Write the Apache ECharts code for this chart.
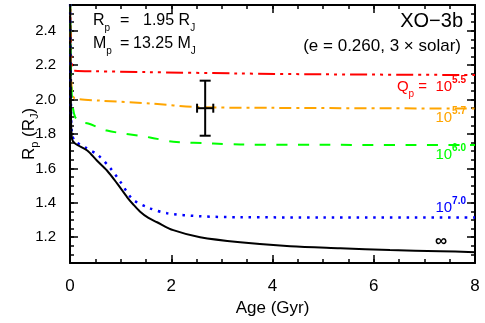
<!DOCTYPE html>
<html>
<head>
<meta charset="utf-8">
<script src="https://cdn.jsdelivr.net/npm/echarts@6/dist/echarts.min.js"></script>
<style>
  html, body { margin: 0; padding: 0; background: #fff; }
  #chart { width: 485px; height: 323px; }
</style>
</head>
<body>
<div id="chart"></div>
<script>
// evolution tracks of XO-3b radius, one per tidal Q
var FONT = 'Liberation Sans, Arial, sans-serif';

var ageQ55 = [0, 0.02, 0.05, 0.1, 0.5, 1.5, 3.3, 5, 8];
var radQ55 = [2.7, 2.3, 2.18, 2.168, 2.165, 2.16, 2.152, 2.147, 2.143];

var ageQ57 = [0, 0.02, 0.05, 0.1, 0.6, 1.6, 2.5, 4, 8];
var radQ57 = [2.7, 2.15, 2.03, 2.006, 1.994, 1.977, 1.957, 1.952, 1.948];

var ageQ60 = [0, 0.02, 0.05, 0.1, 0.2, 0.36, 0.73, 1.58, 2.04, 2.83, 3.36, 5, 8];
var radQ60 = [2.7, 2.15, 1.97, 1.9, 1.87, 1.861, 1.82, 1.78, 1.755, 1.745, 1.739, 1.737, 1.736];

var ageQ70 = [0, 0.02, 0.04, 0.1, 0.3, 0.55, 0.8, 1.0, 1.24, 1.58, 1.92, 2.57, 3.36, 5, 8];
var radQ70 = [2.7, 1.95, 1.8, 1.758, 1.722, 1.678, 1.6, 1.52, 1.42, 1.368, 1.339, 1.322, 1.316, 1.315, 1.314];

var ageInf = [0, 0.02, 0.04, 0.1, 0.34, 0.53, 0.73, 0.93, 1.13, 1.25, 1.38, 1.55, 1.72, 2.04, 2.57, 3.36, 4.35, 5.34, 6.32, 7.31, 8];
var radInf = [2.7, 1.9, 1.77, 1.745, 1.704, 1.646, 1.588, 1.513, 1.432, 1.39, 1.35, 1.312, 1.287, 1.241, 1.2, 1.171, 1.148, 1.136, 1.125, 1.119, 1.113];

// observed planet
var obsAge = [2.67];
var obsAgeErr = [0.16];
var obsRadius = [1.95];
var obsRadiusErr = [0.16];

// axis ranges and tick steps
var ageMin = 0, ageMax = 8, ageStep = 2, ageMinorStep = 0.5;
var radMin = 1.05, radMax = 2.55, radStep = 0.2, radMinorStep = 0.05;

function pairs(xs, ys) {
  var out = [];
  for (var i = 0; i < xs.length; i++) {
    out.push([xs[i], ys[i]]);
  }
  return out;
}

function track(name, xs, ys, color, dash, width) {
  return {
    name: name,
    type: 'line',
    data: pairs(xs, ys),
    showSymbol: false,
    smooth: 0.3,
    clip: true,
    lineStyle: { color: color, width: width || 2, type: dash, cap: 'butt' },
    z: 3
  };
}

// plot box, px
var L = 70, R = 10, T = 5, B = 60, H = 323;
var MAJ = 8, MIN = 4;
var pxPerRad = (H - T - B) / (radMax - radMin);
// major y ticks start from a multiple of the step, so that grid reaches a bit lower
var radMajorStart = Math.floor(radMin / radStep) * radStep;
var majBottom = B - (radMin - radMajorStart) * pxPerRad;

var grids = [
  { left: L, right: R, top: T, bottom: B },                 // 0 curves, bottom/left axes
  { left: L, right: R, top: T, bottom: B },                 // 1 top/right frame
  { left: L, right: R, bottom: B, height: MAJ },            // 2 bottom major ticks
  { left: L, right: R, bottom: B, height: MIN },            // 3 bottom minor ticks
  { left: L, right: R, top: T, height: MAJ },               // 4 top major ticks
  { left: L, right: R, top: T, height: MIN },               // 5 top minor ticks
  { left: L, width: MAJ, top: T, bottom: majBottom },       // 6 left major ticks
  { left: L, width: MIN, top: T, bottom: B },               // 7 left minor ticks
  { right: R, width: MAJ, top: T, bottom: majBottom },      // 8 right major ticks
  { right: R, width: MIN, top: T, bottom: B }               // 9 right minor ticks
];

var frameLine = { show: true, onZero: false, lineStyle: { color: '#000', width: 2 } };

function hidden(gridIndex) {
  return { type: 'value', gridIndex: gridIndex, show: false, min: 0, max: 1 };
}

// short split lines in a thin grid act as inward ticks
function tickAxis(gridIndex, min, max, step) {
  return {
    type: 'value',
    gridIndex: gridIndex,
    min: min,
    max: max,
    interval: step,
    axisLine: { show: false },
    axisTick: { show: false },
    axisLabel: { show: false },
    splitLine: { show: true, showMinLine: false, showMaxLine: false, lineStyle: { color: '#000', width: 1.5 } }
  };
}

var xAxes = [
  {
    type: 'value', gridIndex: 0, position: 'bottom',
    min: ageMin, max: ageMax, interval: ageStep,
    axisLine: frameLine,
    axisTick: { show: false },
    splitLine: { show: false },
    axisLabel: { fontSize: 17, color: '#000', margin: 15, fontFamily: FONT },
    name: 'Age (Gyr)',
    nameLocation: 'middle',
    nameGap: 37,
    nameMoveOverlap: false,
    nameTextStyle: { fontSize: 17, color: '#000', fontFamily: FONT }
  },
  {
    type: 'value', gridIndex: 1, position: 'top',
    min: ageMin, max: ageMax, interval: ageStep,
    axisLine: frameLine, axisTick: { show: false }, axisLabel: { show: false }, splitLine: { show: false }
  },
  tickAxis(2, ageMin, ageMax, ageStep),
  tickAxis(3, ageMin, ageMax, ageMinorStep),
  tickAxis(4, ageMin, ageMax, ageStep),
  tickAxis(5, ageMin, ageMax, ageMinorStep),
  hidden(6), hidden(7), hidden(8), hidden(9)
];

var yAxes = [
  {
    type: 'value', gridIndex: 0, position: 'left',
    min: radMin, max: radMax, interval: radMinorStep,
    axisLine: frameLine,
    axisTick: { show: false },
    splitLine: { show: false },
    axisLabel: {
      fontSize: 15, color: '#000', margin: 14, fontFamily: FONT, hideOverlap: false,
      formatter: function (v) {
        var k = v / radStep;
        return Math.abs(k - Math.round(k)) < 1e-6 ? v.toFixed(1) : '';
      }
    },
    name: '{n|R}{s|p}{n| (R}{s|J}{n|)}',
    nameLocation: 'middle',
    nameGap: 30,
    nameRotate: 90,
    nameMoveOverlap: false,
    nameTextStyle: {
      fontFamily: FONT,
      rich: {
        n: { fontSize: 17, color: '#000', lineHeight: 22, fontFamily: FONT },
        s: { fontSize: 11, color: '#000', lineHeight: 14, verticalAlign: 'bottom', fontFamily: FONT }
      }
    }
  },
  {
    type: 'value', gridIndex: 1, position: 'right',
    min: radMin, max: radMax,
    axisLine: frameLine, axisTick: { show: false }, axisLabel: { show: false }, splitLine: { show: false }
  },
  hidden(2), hidden(3), hidden(4), hidden(5),
  tickAxis(6, radMajorStart, radMax, radStep),
  tickAxis(7, radMin, radMax, radMinorStep),
  tickAxis(8, radMajorStart, radMax, radStep),
  tickAxis(9, radMin, radMax, radMinorStep)
];

// rich styles for the in-plot notes
function richSet(color, size) {
  return {
    n: { fontSize: size, fill: color, lineHeight: 24, fontFamily: FONT },
    s: { fontSize: 10, fill: color, lineHeight: 16, verticalAlign: 'bottom', fontFamily: FONT },
    u: { fontSize: 10, fill: color, lineHeight: 10, verticalAlign: 'top', fontWeight: 'bold', fontFamily: FONT }
  };
}

function note(text, x, y, align, color, size) {
  return {
    type: 'text',
    x: x,
    y: y,
    z: 100,
    style: {
      text: text,
      fill: color,
      rich: richSet(color, size),
      align: align,
      verticalAlign: 'middle'
    }
  };
}

var chart = echarts.init(document.getElementById('chart'));

var option = {
  animation: false,
  grid: grids,
  xAxis: xAxes,
  yAxis: yAxes,
  series: [
    track('Qp 10^5.5', ageQ55, radQ55, '#ff0000', [17, 5, 3, 5, 3, 5, 3, 5]),
    track('Qp 10^5.7', ageQ57, radQ57, '#ffa500', [12, 5, 3, 5]),
    track('Qp 10^6.0', ageQ60, radQ60, '#00ff00', [11, 10.5]),
    track('Qp 10^7.0', ageQ70, radQ70, '#0000ff', [2.5, 5.8], 2.5),
    track('Qp inf', ageInf, radInf, '#000000', 'solid'),
    {
      type: 'custom',
      data: obsAge.map(function (a, i) { return [a, obsRadius[i], obsAgeErr[i], obsRadiusErr[i]]; }),
      encode: { x: 0, y: 1 },
      z: 5,
      renderItem: function (params, api) {
        var cx = api.value(0), cy = api.value(1), ex = api.value(2), ey = api.value(3);
        var top = api.coord([cx, cy + ey]);
        var bot = api.coord([cx, cy - ey]);
        var lft = api.coord([cx - ex, cy]);
        var rgt = api.coord([cx + ex, cy]);
        var seg = function (x1, y1, x2, y2) {
          return { type: 'line', shape: { x1: x1, y1: y1, x2: x2, y2: y2 }, style: { stroke: '#000', lineWidth: 2 } };
        };
        return {
          type: 'group',
          children: [
            seg(top[0], top[1], bot[0], bot[1]),
            seg(top[0] - 5.5, top[1], top[0] + 5.5, top[1]),
            seg(bot[0] - 5.5, bot[1], bot[0] + 5.5, bot[1]),
            seg(lft[0], lft[1], rgt[0], rgt[1]),
            seg(lft[0], lft[1] - 4.5, lft[0], lft[1] + 4.5),
            seg(rgt[0], rgt[1] - 4.5, rgt[0], rgt[1] + 4.5)
          ]
        };
      }
    }
  ],
  graphic: [
    note('{n|R}{s|p}', 93, 21, 'left', '#000', 16),
    note('{n|=}', 120, 21, 'left', '#000', 16),
    note('{n|1.95 R}{s|J}', 143, 21, 'left', '#000', 16),
    note('{n|M}{s|p}', 93, 44, 'left', '#000', 16),
    note('{n|=}', 120, 44, 'left', '#000', 16),
    note('{n|13.25 M}{s|J}', 133, 44, 'left', '#000', 16),
    note('{n|XO\u22123b}', 463, 21, 'right', '#000', 20),
    note('{n|(e = 0.260, 3 \u00d7 solar)}', 461, 46, 'right', '#000', 17),
    note('{n|Q}{s|p}{n| =  10}{u|5.5}', 466, 87, 'right', '#ff0000', 15),
    note('{n|10}{u|5.7}', 466, 118, 'right', '#ffa500', 15),
    note('{n|10}{u|6.0}', 466, 155, 'right', '#00ff00', 15),
    note('{n|10}{u|7.0}', 466, 208, 'right', '#0000ff', 15),
    {
      type: 'text', x: 441, y: 241, z: 100,
      style: { text: '\u221e', fontSize: 17, fontWeight: 'bold', fill: '#000', fontFamily: FONT, align: 'center', verticalAlign: 'middle' }
    }
  ]
};

chart.setOption(option);
</script>
</body>
</html>
